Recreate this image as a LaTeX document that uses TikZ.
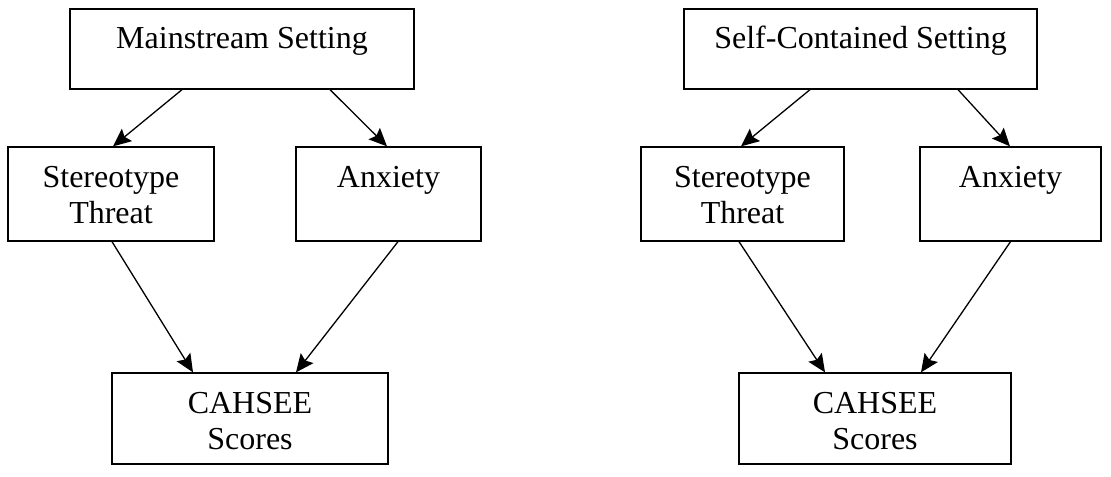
\documentclass[tikz,border=0pt]{standalone}
\usepackage{fontspec}
\setmainfont{Liberation Serif}
\usetikzlibrary{arrows.meta,positioning}

\begin{document}
\begin{tikzpicture}[x=0.5pt,y=-0.5pt,>={Stealth[length=9pt,width=8pt,inset=1.5pt]},
  line width=0.65pt]
  \tikzstyle{box}=[rectangle,draw=black,inner sep=0pt]
  \tikzstyle{txt}=[inner sep=0pt,align=center,font=\fontsize{16}{18}\selectfont]
  \useasboundingbox (0,0) rectangle (1111,476);
  % mainstream
  \begin{scope}
    \node [box,minimum width=172pt,minimum height=40pt] (ms) at (242,49) {};
    \node [box,minimum width=103pt,minimum height=47pt] (st1) at (111,194) {};
    \node [box,minimum width=92.5pt,minimum height=47pt] (ax1) at (388.5,194) {};
    \node [box,minimum width=138pt,minimum height=45.5pt] (cs1) at (250,418.5) {};
    \node [txt,below=7.4pt of ms.north] (ms-t) {\strut Mainstream Setting};
    \node [txt,below=7.4pt of st1.north] (st1-t) {\strut Stereotype\\Threat};
    \node [txt,below=7.4pt of ax1.north] (ax1-t) {\strut Anxiety};
    \node [txt,below=7.4pt of cs1.north] (cs1-t) {\strut CAHSEE\\Scores};
    \draw [->] ([xshift=-30pt]ms.south) -- ([xshift=1pt]st1.north);
    \draw [->] ([xshift=44pt]ms.south) -- ([xshift=-0.75pt]ax1.north);
    \draw [->] ([xshift=0.5pt]st1.south) -- ([xshift=-28.5pt]cs1.north);
    \draw [->] ([xshift=4.75pt]ax1.south) -- ([xshift=23pt]cs1.north);
  \end{scope}
  % self-contained
  \begin{scope}
    \node [box,minimum width=176.5pt,minimum height=40pt] (sc) at (860.5,49) {};
    \node [box,minimum width=101.5pt,minimum height=47pt] (st2) at (742.5,194) {};
    \node [box,minimum width=90.5pt,minimum height=47pt] (ax2) at (1010.5,194) {};
    \node [box,minimum width=136pt,minimum height=45.5pt] (cs2) at (875,418.5) {};
    \node [txt,below=7.4pt of sc.north] (sc-t) {\strut Self-Contained Setting};
    \node [txt,below=7.4pt of st2.north] (st2-t) {\strut Stereotype\\Threat};
    \node [txt,below=7.4pt of ax2.north] (ax2-t) {\strut Anxiety};
    \node [txt,below=7.4pt of cs2.north] (cs2-t) {\strut CAHSEE\\Scores};
    \draw [->] ([xshift=-25.25pt]sc.south) -- ([xshift=-0.75pt]st2.north);
    \draw [->] ([xshift=48.75pt]sc.south) -- ([xshift=-0.25pt]ax2.north);
    \draw [->] ([xshift=-1.75pt]st2.south) -- ([xshift=-25pt]cs2.north);
    \draw [->] (ax2.south) -- ([xshift=23pt]cs2.north);
  \end{scope}
\end{tikzpicture}
\end{document}
